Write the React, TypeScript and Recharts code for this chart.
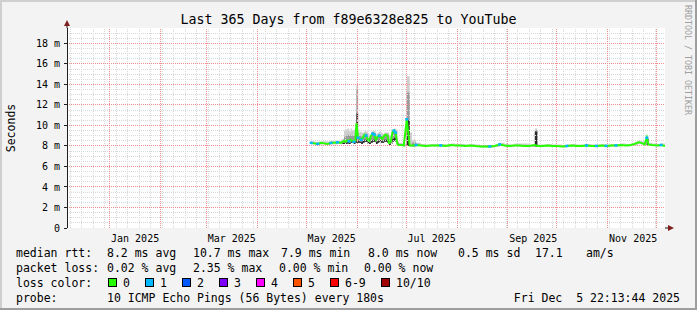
import React from 'react';
import {
  ComposedChart,
  Area,
  Line,
  Scatter,
  XAxis,
  YAxis,
  CartesianGrid
} from 'recharts';

// time is in days since 2025-01-01 00:00
const START_DAY = -26.07; // Thu Dec  5 22:13 2024
const END_DAY = 338.93; // Fri Dec  5 22:13 2025
const Y_TOP = 19.5;

const monthStarts = [0, 31, 59, 90, 120, 151, 181, 212, 243, 273, 304, 334];
const labelDays = [15.5, 74.5, 135.5, 196.5, 258.5, 319.5];
const labelNames = ['Jan 2025', 'Mar 2025', 'May 2025', 'Jul 2025', 'Sep 2025', 'Nov 2025'];
const yTicks = [0, 2, 4, 6, 8, 10, 12, 14, 16, 18];

const days = [
  123, 125, 127, 129, 131, 133, 135, 137, 139, 141,
  142, 143, 144, 145, 146, 147, 148, 149, 150, 150.6,
  151.6, 152.5, 153.5, 154.5, 155.5, 156.5, 157.5, 158.5, 159.5, 160.5,
  161.5, 162.5, 163.5, 164.5, 165.5, 166.5, 167.5, 168.5, 169.5, 170.5,
  171.5, 172.5, 173.5, 174.5, 175.5, 176.5, 178, 179.5, 181.3, 183.1,
  184.5, 187, 190, 193, 196, 199, 202, 205, 208, 211,
  214, 217, 220, 223, 226, 229, 232, 235, 238, 241,
  244, 247, 250, 253, 256, 259.5, 261, 264, 267, 270,
  273, 276, 279, 282, 285, 288, 291, 294, 297, 300,
  303, 306, 309, 312, 315, 318, 320.5, 322.5, 324.5, 326.5,
  327.8, 328.8, 331, 334, 336.5, 338.9
];

// median rtt, ms
const medianMs = [
  8.30, 8.25, 8.20, 8.30, 8.25, 8.20, 8.30, 8.30, 8.35, 8.30,
  8.40, 8.50, 8.40, 8.55, 8.45, 8.60, 8.50, 8.40, 8.60, 10.20,
  8.80, 8.70, 8.60, 8.80, 9.10, 9.00, 8.60, 8.50, 9.00, 9.20,
  9.10, 8.60, 8.90, 9.00, 8.80, 8.70, 9.00, 9.10, 9.00, 8.30,
  8.40, 9.30, 9.50, 9.30, 8.20, 8.10, 8.10, 8.05, 10.60, 8.05,
  8.05, 8.10, 8.05, 8.00, 8.05, 8.05, 8.05, 8.00, 8.10, 8.05,
  8.05, 8.00, 8.05, 8.00, 7.95, 7.95, 7.95, 8.00, 8.15, 8.05,
  8.00, 8.05, 8.05, 8.00, 8.00, 8.10, 8.00, 8.00, 8.05, 8.00,
  8.00, 7.95, 8.00, 8.05, 8.00, 8.00, 8.05, 8.00, 8.00, 8.05,
  8.00, 8.05, 8.05, 8.10, 8.05, 8.10, 8.20, 8.35, 8.30, 8.15,
  8.80, 8.15, 8.10, 8.05, 8.10, 8.00
];

// smoke: fastest ping
const smokeLowMs = [
  8.15, 8.10, 8.10, 8.15, 8.10, 8.10, 8.15, 8.15, 8.20, 8.15,
  8.20, 8.20, 8.20, 8.25, 8.20, 8.30, 8.30, 8.20, 8.30, 8.30,
  8.30, 8.30, 8.20, 8.30, 8.40, 8.40, 8.20, 8.20, 8.30, 8.40,
  8.40, 8.20, 8.30, 8.40, 8.30, 8.30, 8.40, 8.40, 8.30, 8.10,
  8.20, 8.40, 8.50, 8.40, 8.05, 8.00, 8.00, 7.95, 8.00, 7.95,
  7.95, 8.00, 7.95, 7.90, 7.95, 7.95, 7.95, 7.90, 8.00, 7.95,
  7.95, 7.90, 7.95, 7.90, 7.85, 7.85, 7.85, 7.90, 8.00, 7.95,
  7.90, 7.95, 7.95, 7.90, 7.90, 7.95, 7.90, 7.90, 7.95, 7.90,
  7.90, 7.85, 7.90, 7.95, 7.90, 7.90, 7.95, 7.90, 7.90, 7.95,
  7.90, 7.95, 7.95, 8.00, 7.95, 8.00, 8.05, 8.20, 8.15, 8.05,
  8.10, 8.05, 8.00, 7.95, 8.00, 7.90
];

// smoke: slowest ping
const smokeHighMs = [
  8.45, 8.40, 8.40, 8.45, 8.45, 8.40, 8.50, 8.50, 8.50, 8.60,
  8.70, 9.50, 9.60, 9.70, 9.40, 9.70, 9.50, 9.60, 9.40, 14.00,
  9.30, 9.40, 9.30, 9.30, 9.50, 9.40, 9.20, 9.10, 9.40, 9.50,
  9.40, 9.20, 9.30, 9.40, 9.30, 9.20, 9.30, 9.30, 9.30, 9.00,
  9.10, 9.60, 9.70, 9.60, 8.50, 8.30, 8.30, 8.25, 14.80, 9.30,
  8.60, 8.30, 8.20, 8.15, 8.20, 8.20, 8.20, 8.15, 8.25, 8.20,
  8.20, 8.15, 8.20, 8.15, 8.10, 8.10, 8.10, 8.15, 8.30, 8.20,
  8.15, 8.25, 8.25, 8.25, 8.15, 9.70, 8.15, 8.15, 8.20, 8.15,
  8.15, 8.10, 8.15, 8.20, 8.15, 8.15, 8.20, 8.15, 8.15, 8.20,
  8.15, 8.20, 8.20, 8.25, 8.20, 8.25, 8.35, 8.50, 8.45, 8.30,
  8.90, 8.30, 8.25, 8.20, 8.25, 8.15
];

// smoke: upper edge of the denser pings
const smokeMidMs = [
  8.15, 8.10, 8.10, 8.15, 8.10, 8.10, 8.15, 8.15, 8.20, 8.15,
  8.50, 8.90, 9.00, 9.10, 9.00, 9.10, 9.00, 9.00, 9.00, 13.50,
  9.00, 9.00, 8.90, 9.00, 9.20, 9.20, 8.90, 8.80, 9.10, 9.30,
  9.20, 8.90, 9.00, 9.10, 9.00, 8.90, 9.10, 9.20, 9.10, 8.60,
  8.70, 9.40, 9.50, 9.40, 8.30, 8.00, 8.00, 7.95, 13.20, 7.95,
  8.30, 8.00, 7.95, 7.90, 7.95, 7.95, 7.95, 7.90, 8.00, 7.95,
  7.95, 7.90, 7.95, 7.90, 7.85, 7.85, 7.85, 7.90, 8.00, 7.95,
  7.90, 7.95, 7.95, 7.90, 7.90, 9.50, 7.90, 7.90, 7.95, 7.90,
  7.90, 7.85, 7.90, 7.95, 7.90, 7.90, 7.95, 7.90, 7.90, 7.95,
  7.90, 7.95, 7.95, 8.00, 7.95, 8.00, 8.05, 8.20, 8.15, 8.05,
  8.75, 8.05, 8.00, 7.95, 8.00, 7.90
];

// smoke: upper edge of the densest pings
const smokeDarkMs = [
  8.15, 8.10, 8.10, 8.15, 8.10, 8.10, 8.15, 8.15, 8.20, 8.15,
  8.30, 8.30, 8.30, 8.40, 8.30, 8.40, 8.40, 8.30, 8.40, 11.20,
  8.50, 8.40, 8.40, 8.50, 8.60, 8.60, 8.40, 8.30, 8.50, 8.60,
  8.60, 8.40, 8.50, 8.60, 8.50, 8.40, 8.60, 8.60, 8.50, 8.20,
  8.30, 8.70, 8.80, 8.70, 8.10, 8.00, 8.00, 7.95, 10.50, 7.95,
  7.95, 8.00, 7.95, 7.90, 7.95, 7.95, 7.95, 7.90, 8.00, 7.95,
  7.95, 7.90, 7.95, 7.90, 7.85, 7.85, 7.85, 7.90, 8.00, 7.95,
  7.90, 7.95, 7.95, 7.90, 7.90, 9.40, 7.90, 7.90, 7.95, 7.90,
  7.90, 7.85, 7.90, 7.95, 7.90, 7.90, 7.95, 7.90, 7.90, 7.95,
  7.90, 7.95, 7.95, 8.00, 7.95, 8.00, 8.05, 8.20, 8.15, 8.05,
  8.70, 8.05, 8.00, 7.95, 8.00, 7.90
];

// lost pings out of 10
const lostPings = [
  1, 0, 1, 0, 0, 0, 1, 0, 1, 0,
  0, 0, 0, 0, 1, 0, 0, 1, 0, 0,
  1, 0, 1, 0, 0, 1, 0, 0, 0, 1,
  1, 0, 0, 1, 0, 0, 0, 0, 0, 0,
  0, 0, 1, 1, 0, 0, 0, 0, 1, 0,
  0, 1, 0, 0, 0, 0, 1, 0, 0, 0,
  0, 0, 0, 0, 0, 0, 1, 0, 1, 0,
  0, 0, 0, 0, 0, 0, 0, 0, 0, 0,
  0, 0, 1, 0, 0, 0, 1, 0, 1, 0,
  1, 0, 1, 0, 0, 0, 0, 0, 0, 0,
  1, 0, 0, 0, 1, 0
];

const lossColors = [
  { label: '0', color: '#26ff00' },
  { label: '1', color: '#00b8ff' },
  { label: '2', color: '#0059ff' },
  { label: '3', color: '#7e00ff' },
  { label: '4', color: '#ff00ff' },
  { label: '5', color: '#ff5500' },
  { label: '6-9', color: '#ff0000' },
  { label: '10/10', color: '#a10000' }
];

const rows = days.map((day, i) => ({
  day,
  median: medianMs[i],
  light: [smokeLowMs[i], smokeHighMs[i]],
  mid: [smokeLowMs[i], smokeMidMs[i]],
  dark: [smokeLowMs[i], smokeDarkMs[i]],
  loss: lostPings[i]
}));
const lossRows = rows.filter((r) => r.loss === 1);

// grid positions (weekly lines on Sundays, 0.5 ms steps)
const weekLines: number[] = [];
for (let d = -24; d < END_DAY; d += 7) if (!monthStarts.includes(d)) weekLines.push(d);
const minorY: number[] = [];
for (let v = 0.5; v < Y_TOP; v += 0.5) if (v % 2 !== 0) minorY.push(v);
const majorY = yTicks.filter((v) => v > 0);

// grid drawn as broken line series, segments split by nulls
type GridPt = { day: number; v: number | null };
const gridSegments = (xs: number[], ys: number[]): GridPt[] => {
  const pts: GridPt[] = [];
  xs.forEach((d) => pts.push({ day: d, v: 0 }, { day: d, v: Y_TOP }, { day: d, v: null }));
  ys.forEach((y) => pts.push({ day: START_DAY, v: y }, { day: END_DAY, v: y }, { day: END_DAY, v: null }));
  return pts;
};
const minorGrid = gridSegments(weekLines, minorY);
const majorGrid = gridSegments(monthStarts, majorY);

const FONT = '"DejaVu Sans Mono", monospace';
const MINOR = '#d8d8d8';
const MAJOR = '#ee9090';
const ARROW = '#801f1f';

const LossMark = (props: any) => {
  const { cx, cy } = props;
  if (cx == null || cy == null) return null;
  return <rect x={cx - 1.5} y={cy - 1.25} width={3} height={2.5} fill="#00b8ff" />;
};

const Txt = ({ x, y, children, anchor = 'start' }: any) => (
  <text x={x} y={y} fontFamily={FONT} fontSize={11.5} fill="#000" textAnchor={anchor} style={{ whiteSpace: 'pre' }}>
    {children}
  </text>
);

export default function App() {
  return (
    <div style={{ position: 'absolute', left: 0, top: 0, width: 697, height: 310, background: '#f3f3f3' }}>
      <style>{`
        .grid-line path { shape-rendering: crispEdges; }
        .recharts-cartesian-axis-line, .recharts-cartesian-axis-tick-line { shape-rendering: crispEdges; }
      `}</style>
      <ComposedChart width={697} height={310} data={rows} margin={{ top: 28, right: 32, bottom: 62, left: 8 }}>
        <CartesianGrid xAxisId="t" yAxisId="ms" fill="#ffffff" horizontal={false} vertical={false} />
        <XAxis
          xAxisId="t"
          dataKey="day"
          type="number"
          domain={[START_DAY, END_DAY]}
          allowDataOverflow
          ticks={monthStarts}
          tick={false}
          tickSize={3}
          tickLine={{ stroke: '#1f1f1f' }}
          axisLine={{ stroke: '#1f1f1f' }}
          height={0}
        />
        <XAxis
          xAxisId="lbl"
          dataKey="day"
          type="number"
          domain={[START_DAY, END_DAY]}
          allowDataOverflow
          ticks={labelDays}
          tickFormatter={(v) => labelNames[labelDays.indexOf(v)] ?? ''}
          tick={{ fontFamily: FONT, fontSize: 10, fill: '#000' }}
          tickLine={false}
          axisLine={false}
          tickSize={0}
          tickMargin={7}
          height={20}
          interval={0}
        />
        <YAxis
          yAxisId="ms"
          type="number"
          domain={[0, Y_TOP]}
          allowDataOverflow
          ticks={yTicks}
          interval={0}
          tickFormatter={(v) => (v === 0 ? '0' : `${v} m`)}
          tick={{ fontFamily: FONT, fontSize: 10, fill: '#000' }}
          tickSize={3}
          tickMargin={4}
          tickLine={{ stroke: '#1f1f1f' }}
          axisLine={{ stroke: '#1f1f1f' }}
          width={59}
        />
        <Line className="grid-line" xAxisId="t" yAxisId="ms" data={minorGrid} dataKey="v" type="linear" stroke={MINOR} strokeWidth={1} strokeDasharray="1 1" shapeRendering="crispEdges" dot={false} activeDot={false} connectNulls={false} isAnimationActive={false} />
        <Line className="grid-line" xAxisId="t" yAxisId="ms" data={majorGrid} dataKey="v" type="linear" stroke={MAJOR} strokeWidth={1} strokeDasharray="1 1" shapeRendering="crispEdges" dot={false} activeDot={false} connectNulls={false} isAnimationActive={false} />
        <Area xAxisId="t" yAxisId="ms" type="stepAfter" dataKey="light" stroke="none" fill="#cdcdcd" fillOpacity={1} isAnimationActive={false} />
        <Area xAxisId="t" yAxisId="ms" type="stepAfter" dataKey="mid" stroke="none" fill="#9a9a9a" fillOpacity={1} isAnimationActive={false} />
        <Area xAxisId="t" yAxisId="ms" type="stepAfter" dataKey="dark" stroke="none" fill="#2a2a2a" fillOpacity={1} isAnimationActive={false} />
        <Line xAxisId="t" yAxisId="ms" type="linear" dataKey="median" stroke="#26ff00" strokeWidth={2} dot={false} isAnimationActive={false} />
        <Scatter xAxisId="t" yAxisId="ms" data={lossRows} dataKey="median" shape={<LossMark />} isAnimationActive={false} />
      </ComposedChart>

      <svg width={697} height={310} style={{ position: 'absolute', left: 0, top: 0, pointerEvents: 'none' }}>
        {/* frame */}
        <rect x={0} y={0} width={697} height={2} fill="#cfcfcf" />
        <rect x={0} y={0} width={2} height={310} fill="#cfcfcf" />
        <rect x={0} y={308} width={697} height={2} fill="#9e9e9e" />
        <rect x={695} y={0} width={2} height={310} fill="#9e9e9e" />

        {/* axis arrows */}
        <line x1={67} y1={28} x2={67} y2={23} stroke="#1f1f1f" />
        <polygon points="64,26 70,26 67,20" fill={ARROW} />
        <line x1={665} y1={228} x2={670} y2={228} stroke="#1f1f1f" />
        <polygon points="668,225 668,231 674,228" fill={ARROW} />

        <text x={348.5} y={24} fontFamily={FONT} fontSize={13.3} textAnchor="middle" fill="#000">
          Last 365 Days from f89e6328e825 to YouTube
        </text>
        <text transform="translate(15,128) rotate(-90)" fontFamily={FONT} fontSize={11.5} textAnchor="middle" fill="#000">
          Seconds
        </text>
        <text transform="translate(685,5) rotate(90)" fontFamily={FONT} fontSize={8.3} fill="#a0a0a0">
          RRDTOOL / TOBI OETIKER
        </text>

        <Txt x={16} y={257}>median rtt:</Txt>
        <Txt x={107} y={257}>8.2 ms avg</Txt>
        <Txt x={193} y={257}>10.7 ms max</Txt>
        <Txt x={281} y={257}>7.9 ms min</Txt>
        <Txt x={368} y={257}>8.0 ms now</Txt>
        <Txt x={458} y={257}>0.5 ms sd</Txt>
        <Txt x={535} y={257}>17.1</Txt>
        <Txt x={586} y={257}>am/s</Txt>

        <Txt x={16} y={272}>packet loss:</Txt>
        <Txt x={107} y={272}>0.02 % avg</Txt>
        <Txt x={193} y={272}>2.35 % max</Txt>
        <Txt x={279} y={272}>0.00 % min</Txt>
        <Txt x={364} y={272}>0.00 % now</Txt>

        <Txt x={16} y={287}>loss color:</Txt>
        {lossColors.map((c, i) => {
          const bx = [108, 145, 182, 219, 256, 293, 330, 381][i];
          return (
            <g key={c.label}>
              <rect x={bx + 0.5} y={278.5} width={8} height={8} fill={c.color} stroke="#000" />
              <Txt x={bx + 15} y={287}>{c.label}</Txt>
            </g>
          );
        })}

        <Txt x={16} y={302}>probe:</Txt>
        <Txt x={107} y={302}>10 ICMP Echo Pings (56 Bytes) every 180s</Txt>
        <Txt x={680} y={302} anchor="end">Fri Dec  5 22:13:44 2025</Txt>
      </svg>
    </div>
  );
}
